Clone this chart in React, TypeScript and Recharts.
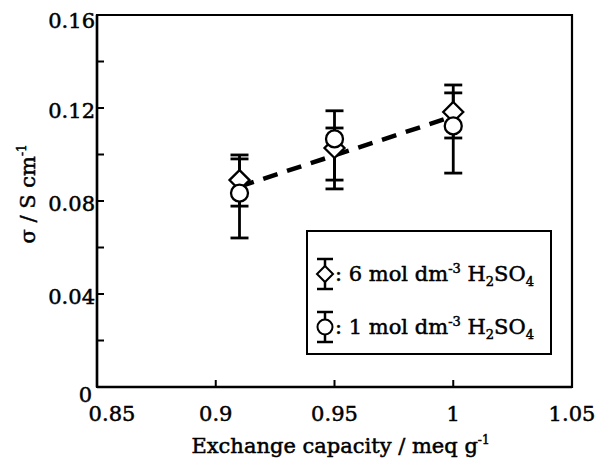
import React from "react"
import {
  ComposedChart,
  Line,
  Scatter,
  ErrorBar,
  XAxis,
  YAxis,
  Legend,
  Label,
  ReferenceArea,
} from "recharts"

// exchange capacity (meq g-1) of the three membranes
const capacity = [0.91, 0.95, 1.0]

// conductivity in 6 mol dm-3 H2SO4 (diamonds), errors as [down, up]
const sigma6 = [0.089, 0.1028, 0.1183]
const err6 = [
  [0.0112, 0.0108],
  [0.0138, 0.0086],
  [0.0112, 0.0116],
]

// conductivity in 1 mol dm-3 H2SO4 (circles)
const sigma1 = [0.0834, 0.1067, 0.1123]
const err1 = [
  [0.0193, 0.0147],
  [0.0215, 0.0121],
  [0.0203, 0.0142],
]

// dashed trend line end points
const trendX = [0.91, 1.0]
const trendY = [0.0862, 0.1164]

const xTicks = [0.85, 0.9, 0.95, 1, 1.05]
const yTicks = [0, 0.02, 0.04, 0.06, 0.08, 0.1, 0.12, 0.14, 0.16]

const data6 = capacity.map((x, i) => ({ x, y: sigma6[i], err: err6[i] }))
const data1 = capacity.map((x, i) => ({ x, y: sigma1[i], err: err1[i] }))
const trend = trendX.map((x, i) => ({ x, y: trendY[i] }))

const FONT = "'DejaVu Serif', 'Liberation Serif', serif"
// scanned print looks heavier than a plain regular face
const ink = { stroke: "#000", strokeWidth: 0.5 }

const Diamond = (props: any) => {
  const { cx, cy } = props
  const w = 10
  const h = 10
  return (
    <polygon
      points={`${cx},${cy - h} ${cx + w},${cy} ${cx},${cy + h} ${cx - w},${cy}`}
      fill="#fff"
      stroke="#000"
      strokeWidth={2.3}
    />
  )
}

const Circle = (props: any) => {
  const { cx, cy } = props
  return <circle cx={cx} cy={cy} r={8.5} fill="#fff" stroke="#000" strokeWidth={2.3} />
}

const Blank = () => <g />

const YTick = (props: any) => {
  const { x, y, payload } = props
  const v = payload.value
  const major = Math.round(v * 100) % 4 === 0
  const label = v === 0 ? "0" : v.toFixed(2)
  let shift = 3
  if (v === 0) shift = 8
  if (v === 0.16) shift = 6
  return (
    <g>
      {v !== 0 && v !== 0.16 && <line x1={x} x2={x + 7} y1={y} y2={y} stroke="#000" strokeWidth={2} />}
      {major && (
        <text
          x={v === 0 ? x - 5 : x - 2}
          y={y + shift}
          dy="0.35em"
          textAnchor="end"
          fontFamily={FONT}
          fontSize={21}
          fill="#000"
          {...ink}
        >
          {label}
        </text>
      )}
    </g>
  )
}

const XTick = (props: any) => {
  const { x, y, payload } = props
  const v = payload.value
  const edge = v === 0.85 || v === 1.05
  return (
    <g>
      {!edge && <line x1={x} x2={x} y1={y} y2={y - 7} stroke="#000" strokeWidth={2} />}
      <text x={v === 0.85 ? x + 15 : x} y={y + 34} textAnchor="middle" fontFamily={FONT} fontSize={21} fill="#000" {...ink}>
        {String(v)}
      </text>
    </g>
  )
}

const LegendIcon = ({ kind }: { kind: "diamond" | "circle" }) => (
  <svg width={22} height={36} style={{ display: "block" }}>
    <line x1={11} x2={11} y1={3} y2={33} stroke="#000" strokeWidth={2.5} />
    <line x1={3} x2={19} y1={3} y2={3} stroke="#000" strokeWidth={2.5} />
    <line x1={3} x2={19} y1={33} y2={33} stroke="#000" strokeWidth={2.5} />
    {kind === "diamond" ? (
      <polygon points="11,10 19,18 11,26 3,18" fill="#fff" stroke="#000" strokeWidth={2} />
    ) : (
      <circle cx={11} cy={18} r={7.5} fill="#fff" stroke="#000" strokeWidth={2} />
    )}
  </svg>
)

const supStyle: React.CSSProperties = { fontSize: 13, position: "relative", top: -8 }
const subStyle: React.CSSProperties = { fontSize: 13, position: "relative", top: 5 }

const LegendRow = ({ kind, conc, top }: { kind: "diamond" | "circle"; conc: string; top: number }) => (
  <div style={{ position: "absolute", left: 6, top: top - 18, height: 36, display: "flex", alignItems: "center", whiteSpace: "nowrap" }}>
    <LegendIcon kind={kind} />
    <span style={{ marginLeft: -1 }}>
      : {conc} mol dm<span style={supStyle}>-3</span> H<span style={subStyle}>2</span>SO<span style={subStyle}>4</span>
    </span>
  </div>
)

const LegendBox = () => (
  <div
    style={{
      position: "relative",
      width: 246,
      height: 125,
      boxSizing: "border-box",
      border: "2px solid #000",
      background: "#fff",
      fontFamily: FONT,
      fontSize: 21,
      color: "#000",
      WebkitTextStroke: "0.5px #000",
    }}
  >
    <LegendRow kind="diamond" conc="6" top={42} />
    <LegendRow kind="circle" conc="1" top={95} />
  </div>
)

export default function App() {
  return (
    <ComposedChart width={591} height={453} margin={{ top: 7, right: 27, bottom: 4, left: 0 }}>
      <XAxis
        dataKey="x"
        type="number"
        domain={[0.85, 1.05]}
        ticks={xTicks}
        interval={0}
        allowDataOverflow
        height={70}
        tickSize={0}
        tickMargin={0}
        tickLine={false}
        axisLine={{ stroke: "#000", strokeWidth: 2.5 }}
        tick={<XTick />}
      >
        <Label
          content={(p: any) => {
            const vb = p.viewBox
            return (
              <text x={vb.x + vb.width / 2 + 6} y={vb.y + 66} textAnchor="middle" fontFamily={FONT} fontSize={21} fill="#000" {...ink}>
                Exchange capacity / meq g
                <tspan dy={-9} fontSize={12}>-1</tspan>
              </text>
            )
          }}
        />
      </XAxis>
      <YAxis
        dataKey="y"
        type="number"
        domain={[0, 0.16]}
        ticks={yTicks}
        interval={0}
        allowDataOverflow
        width={89}
        tickSize={0}
        tickMargin={0}
        tickLine={false}
        axisLine={{ stroke: "#000", strokeWidth: 2.5 }}
        tick={<YTick />}
      >
        <Label
          content={(p: any) => {
            const vb = p.viewBox
            const cx = vb.x + 20
            const cy = vb.y + vb.height / 2 - 7
            return (
              <text
                x={cx}
                y={cy}
                transform={`rotate(-90 ${cx} ${cy})`}
                textAnchor="middle"
                dy="0.35em"
                fontFamily={FONT}
                fontSize={21}
                fill="#000"
                {...ink}
              >
                σ / S cm
                <tspan dy={-9} fontSize={12}>-1</tspan>
              </text>
            )
          }}
        />
      </YAxis>
      <ReferenceArea x1={0.85} x2={1.05} y1={0} y2={0.16} fill="none" stroke="#000" strokeWidth={2.2} ifOverflow="visible" />
      <Line
        data={trend}
        dataKey="y"
        type="linear"
        stroke="#000"
        strokeWidth={4.5}
        strokeDasharray="15 10"
        dot={false}
        activeDot={false}
        isAnimationActive={false}
        legendType="none"
      />
      <Scatter data={data6} dataKey="y" shape={Blank} isAnimationActive={false} legendType="none">
        <ErrorBar dataKey="err" direction="y" width={9} stroke="#000" strokeWidth={2.8} isAnimationActive={false} />
      </Scatter>
      <Scatter data={data1} dataKey="y" shape={Blank} isAnimationActive={false} legendType="none">
        <ErrorBar dataKey="err" direction="y" width={9} stroke="#000" strokeWidth={2.8} isAnimationActive={false} />
      </Scatter>
      <Scatter name="6 mol dm-3 H2SO4" data={data6} dataKey="y" shape={Diamond} isAnimationActive={false} />
      <Scatter name="1 mol dm-3 H2SO4" data={data1} dataKey="y" shape={Circle} isAnimationActive={false} />
      <Legend
        layout="horizontal"
        verticalAlign="middle"
        align="center"
        content={<LegendBox />}
        wrapperStyle={{ position: "absolute", left: 298, top: 222, width: 246, height: 125 }}
      />
    </ComposedChart>
  )
}
